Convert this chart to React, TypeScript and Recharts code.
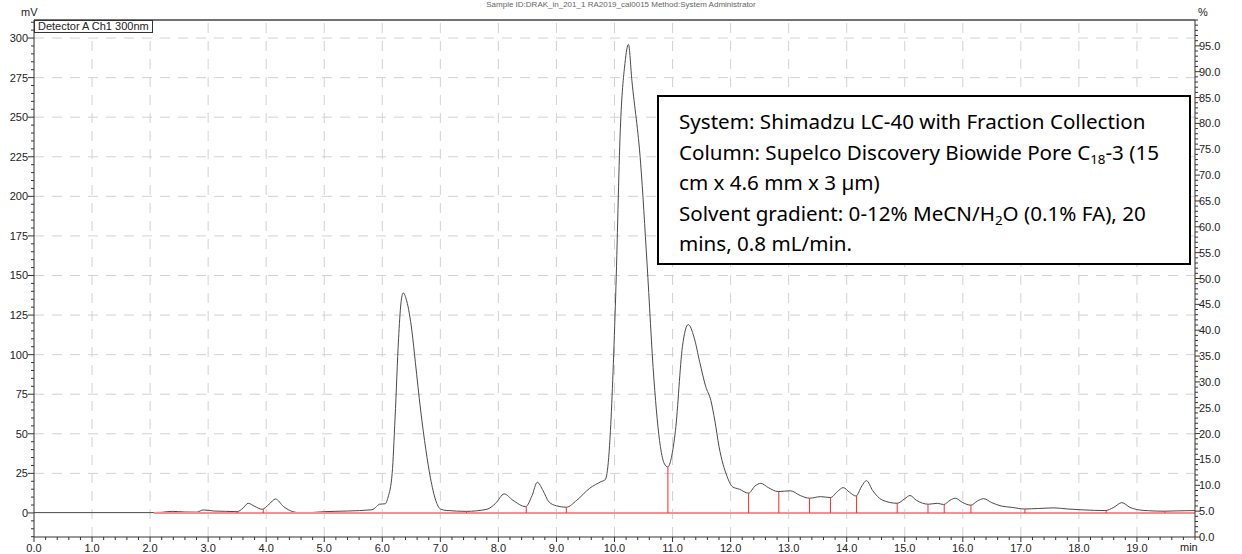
import { ComposedChart, Line, XAxis, YAxis, ReferenceLine } from "recharts";

// retention time (min) and detector signal (mV)
const times = [
  0.0, 1.0, 2.0, 2.2, 2.38, 2.6, 2.8, 2.92, 3.1, 3.3, 3.5, 3.6, 3.69, 3.8, 3.93, 4.05, 4.16, 4.3, 4.46, 4.6,
  4.8, 5.0, 5.4, 5.82, 5.9, 5.95, 6.05, 6.1, 6.17, 6.22, 6.28, 6.32, 6.36, 6.42, 6.51, 6.57, 6.66, 6.75, 6.83, 6.92,
  7.0, 7.1, 7.45, 7.8, 7.95, 8.1, 8.25, 8.47, 8.58, 8.67, 8.77, 8.87, 9.0, 9.17, 9.35, 9.57, 9.77, 9.84, 9.9, 9.93,
  10.02, 10.1, 10.18, 10.24, 10.3, 10.45, 10.56, 10.68, 10.79, 10.86, 10.92, 10.98, 11.05, 11.17, 11.27, 11.37, 11.47, 11.57, 11.66, 11.73,
  11.8, 11.94, 12.03, 12.15, 12.31, 12.42, 12.52, 12.65, 12.82, 13.03, 13.2, 13.36, 13.55, 13.72, 13.84, 13.94, 14.05, 14.16, 14.26, 14.34,
  14.45, 14.61, 14.87, 15.0, 15.09, 15.2, 15.41, 15.56, 15.67, 15.78, 15.87, 16.0, 16.14, 16.25, 16.36, 16.5, 16.66, 16.85, 17.06, 17.3,
  17.57, 17.8, 18.09, 18.45, 18.6, 18.74, 18.88, 19.04, 19.2, 19.47, 19.7, 20.0,
];
const signal = [
  0.2, 0.2, 0.2, 0.4, 1.0, 0.6, 0.5, 1.9, 1.2, 1.0, 0.8, 3.0, 6.1, 4.2, 2.3, 5.5, 8.8, 4.0, 0.8, 0.0,
  0.3, 0.8, 1.2, 2.0, 4.0, 5.5, 5.8, 10, 25, 60, 110, 132, 139, 134, 115, 95, 65, 40, 22, 8,
  2.5, 1.6, 1.0, 2.3, 6, 12, 8, 4, 11, 19.4, 14, 7, 4.5, 3.6, 8, 15.5, 19.8, 21, 35, 52,
  137, 242, 284, 296, 273, 221, 158, 84, 42, 31, 29, 35, 52, 105, 119, 111, 95, 80, 71, 58,
  42, 23, 16.6, 15, 12.5, 17, 18.7, 16, 13.5, 14, 11, 9.3, 10.3, 9.7, 13.5, 16, 13, 10.7, 17, 20.4,
  14, 8.2, 6.1, 9, 11, 8, 5.5, 6.1, 5.3, 8, 9.3, 6.5, 4.9, 7.5, 9, 6.5, 4.4, 3.5, 2.5, 2.8,
  3.2, 2.5, 1.9, 1.5, 3.5, 6.5, 3.5, 1.9, 1.4, 1.1, 1.3, 1.5,
];

// integration cut marks (red drop lines)
const cutTimes = [3.5, 3.95, 7.45, 8.48, 9.17, 10.92, 12.31, 12.83, 13.36, 13.72, 14.17, 14.87, 15.4, 15.68, 16.14, 17.07, 18.47, 19.48];
const cutHeights = [0.8, 2.3, 1.0, 4.0, 3.6, 29, 12.5, 13.5, 9.3, 9.7, 10.7, 6.1, 5.5, 5.3, 4.9, 2.5, 1.5, 1.1];
const baselineStart = 2.06;

const mvLabels = [0, 25, 50, 75, 100, 125, 150, 175, 200, 225, 250, 275, 300];
const minLabels = [0, 1, 2, 3, 4, 5, 6, 7, 8, 9, 10, 11, 12, 13, 14, 15, 16, 17, 18, 19];
const pctLabels = [0, 5, 10, 15, 20, 25, 30, 35, 40, 45, 50, 55, 60, 65, 70, 75, 80, 85, 90, 95];

const data = times.map((t, i) => ({ t, mv: signal[i] }));

const Y_MIN = -15.2;
const Y_MAX = 311.4;

// minor tick positions
const xTicks = Array.from({ length: 101 }, (_, i) => Math.round(i * 2) / 10);
const mvTicks = Array.from({ length: 66 }, (_, i) => -15 + i * 5);
const pctTicks = Array.from({ length: 101 }, (_, i) => i);

const axisColor = "#333";
const labelFont = { fontFamily: "Liberation Sans, Arial, sans-serif", fontSize: 11, fill: "#222" };

const LeftTick = ({ x, y, payload }: any) => {
  const v = payload.value;
  const major = mvLabels.includes(v);
  return (
    <g>
      <line x1={x} x2={x - (major ? 6 : 3)} y1={y} y2={y} stroke={axisColor} />
      {major && (
        <text x={x - 6} y={y} dy={4} textAnchor="end" {...labelFont}>
          {v}
        </text>
      )}
    </g>
  );
};

const RightTick = ({ x, y, payload }: any) => {
  const v = payload.value;
  const major = pctLabels.includes(v);
  return (
    <g>
      <line x1={x} x2={x + (major ? 5 : 3)} y1={y} y2={y} stroke={axisColor} />
      {major && (
        <text x={x + 4} y={y} dy={4} textAnchor="start" {...labelFont}>
          {v.toFixed(1)}
        </text>
      )}
    </g>
  );
};

const BottomTick = ({ x, y, payload }: any) => {
  const v = payload.value;
  const major = minLabels.includes(v);
  return (
    <g>
      <line x1={x} x2={x} y1={y} y2={y + (major ? 5 : 3)} stroke={axisColor} />
      {major && (
        <text x={x} y={y + 15} textAnchor="middle" {...labelFont}>
          {v.toFixed(1)}
        </text>
      )}
    </g>
  );
};

const subStyle = { fontSize: "0.65em", verticalAlign: "-0.3em", lineHeight: 0 };

export default function App() {
  const gridStyle = { stroke: "#d2d2d2", strokeDasharray: "10 8", strokeWidth: 1 };
  return (
    <div style={{ position: "absolute", left: 0, top: 0, width: 1242, height: 554, background: "#fff" }}>
      <ComposedChart width={1242} height={554} data={data} margin={{ top: 20, right: 0, bottom: 0, left: 0 }}>
        <XAxis
          type="number"
          dataKey="t"
          domain={[0, 20]}
          allowDataOverflow
          ticks={xTicks}
          interval={0}
          tickSize={0}
          tickMargin={0}
          tick={<BottomTick />}
          height={17}
          axisLine={{ stroke: axisColor }}
        />
        <YAxis
          yAxisId="mv"
          type="number"
          domain={[Y_MIN, Y_MAX]}
          allowDataOverflow
          ticks={mvTicks}
          interval={0}
          tickSize={0}
          tickMargin={0}
          tick={<LeftTick />}
          width={34}
          axisLine={{ stroke: axisColor }}
        />
        <YAxis
          yAxisId="pct"
          orientation="right"
          type="number"
          domain={[0, 100]}
          allowDataOverflow
          ticks={pctTicks}
          interval={0}
          tickSize={0}
          tickMargin={0}
          tick={<RightTick />}
          width={47}
          axisLine={{ stroke: axisColor }}
        />
        {minLabels.slice(1).map((m) => (
          <ReferenceLine key={"gx" + m} yAxisId="mv" x={m} {...gridStyle} />
        ))}
        {mvLabels.slice(1).map((v) => (
          <ReferenceLine key={"gy" + v} yAxisId="mv" y={v} {...gridStyle} />
        ))}
        <ReferenceLine yAxisId="mv" y={Y_MAX} stroke="#444" strokeWidth={1.5} />
        <Line
          yAxisId="mv"
          dataKey="mv"
          type="monotone"
          stroke="#4a4a4a"
          strokeWidth={1}
          dot={false}
          isAnimationActive={false}
        />
        <ReferenceLine
          yAxisId="mv"
          segment={[
            { x: baselineStart, y: 0 },
            { x: 20, y: 0 },
          ]}
          stroke="#ff8c8c"
          strokeWidth={2}
        />
        {cutTimes.map((t, i) => (
          <ReferenceLine
            key={"c" + t}
            yAxisId="mv"
            segment={[
              { x: t, y: 0 },
              { x: t, y: cutHeights[i] },
            ]}
            stroke="#ff2a2a"
            strokeWidth={1}
          />
        ))}
      </ComposedChart>

      <div style={{ position: "absolute", left: 0, top: 0, width: 1242, textAlign: "center", font: "8px/9px 'Liberation Sans', Arial, sans-serif", color: "#666" }}>
        Sample ID:DRAK_in_201_1 RA2019_cal0015 Method:System Administrator
      </div>
      <div style={{ position: "absolute", left: 21, top: 6, font: "11px 'Liberation Sans', Arial, sans-serif", color: "#222" }}>mV</div>
      <div style={{ position: "absolute", left: 1198, top: 6, font: "11px 'Liberation Sans', Arial, sans-serif", color: "#222" }}>%</div>
      <div style={{ position: "absolute", left: 1180, top: 541, font: "11px 'Liberation Sans', Arial, sans-serif", color: "#222" }}>min</div>
      <div
        style={{
          position: "absolute",
          left: 34,
          top: 20,
          height: 13,
          padding: "0 3px",
          border: "1px solid #333",
          background: "#fff",
          font: "11px/13px 'Liberation Sans', Arial, sans-serif",
          color: "#222",
          boxSizing: "border-box",
          display: "flex",
          alignItems: "center",
        }}
      >
        Detector A Ch1 300nm
      </div>
      <div
        style={{
          position: "absolute",
          left: 657,
          top: 95,
          width: 534,
          height: 170,
          border: "2px solid #000",
          background: "#fff",
          boxSizing: "border-box",
          padding: "9px 0 0 20px",
          font: "20.6px/30.5px 'Noto Sans', sans-serif",
          color: "#000",
          whiteSpace: "nowrap",
        }}
      >
        <div>System: Shimadzu LC-40 with Fraction Collection</div>
        <div>
          Column: Supelco Discovery Biowide Pore C<sub style={subStyle}>18</sub>-3 (15
        </div>
        <div>cm x 4.6 mm x 3 µm)</div>
        <div>
          Solvent gradient: 0-12% MeCN/H<sub style={subStyle}>2</sub>O (0.1% FA), 20
        </div>
        <div>mins, 0.8 mL/min.</div>
      </div>
    </div>
  );
}
